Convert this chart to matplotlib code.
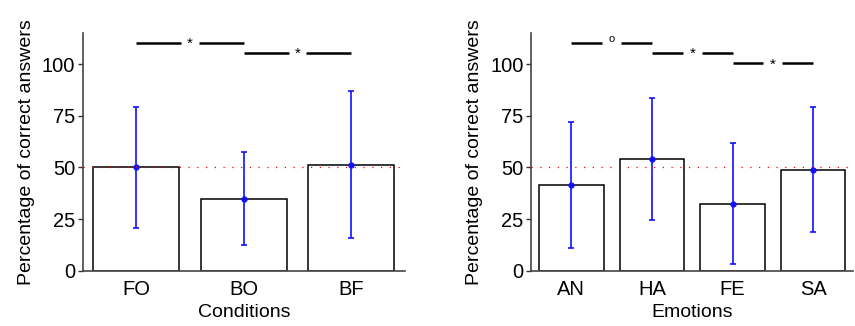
import numpy as np
import matplotlib
matplotlib.use('Agg')
import matplotlib.pyplot as plt

# data
cond_labels = ['FO', 'BO', 'BF']
cond_means = [50.0, 34.8, 51.4]
cond_upper = [79.3, 57.4, 87.1]
cond_lower = [20.5, 12.3, 15.7]
cond_sig = [(1, 2, 110.5, '*'), (2, 3, 105.5, '*')]

emo_labels = ['AN', 'HA', 'FE', 'SA']
emo_means = [41.5, 54.1, 32.5, 48.9]
emo_upper = [72.0, 83.7, 61.7, 79.5]
emo_lower = [11.1, 24.7, 3.1, 18.7]
emo_sig = [(1, 2, 110.5, 'o'), (2, 3, 105.5, '*'), (3, 4, 100.5, '*')]

chance = 50

plt.rcParams['font.family'] = ['Liberation Sans', 'DejaVu Sans']


def draw_panel(ax, labels, means, upper, lower, sig, xlabel, gap):
    x = np.arange(1, len(labels) + 1)
    ax.bar(x, means, width=0.8, color='white', edgecolor='black', linewidth=1.1, zorder=2)
    yerr = [np.array(means) - np.array(lower), np.array(upper) - np.array(means)]
    ax.errorbar(x, means, yerr=yerr, fmt='o', color='#1010ff', ms=3.5,
                elinewidth=1.2, capsize=2, capthick=1.2, zorder=3)
    ax.axhline(chance, color='red', linestyle=(0, (1, 6)), linewidth=0.9, zorder=4)

    # significance brackets
    for a, b, y, mark in sig:
        mid = (a + b) / 2
        ax.plot([a, mid - gap], [y, y], color='black', lw=1.8, solid_capstyle='butt', clip_on=False)
        ax.plot([mid + gap, b], [y, y], color='black', lw=1.8, solid_capstyle='butt', clip_on=False)
        if mark == '*':
            ax.text(mid, y - 0.5, mark, ha='center', va='center', fontsize=11)
        else:
            ax.text(mid, y + 0.3, mark, ha='center', va='baseline', fontsize=8)

    ax.set_xlim(0.5, len(labels) + 0.5)
    ax.set_ylim(0, 115)
    ax.set_yticks([0, 25, 50, 75, 100])
    ax.set_xticks(x)
    ax.set_xticklabels(labels)
    ax.tick_params(axis='x', length=0, labelsize=14.5, pad=7)
    ax.tick_params(axis='y', length=3.5, width=1, direction='out', labelsize=14.5, colors='#333333',
                   labelcolor='black', pad=2)
    for s in ['top', 'right']:
        ax.spines[s].set_visible(False)
    for s in ['left', 'bottom']:
        ax.spines[s].set_color('#444444')
        ax.spines[s].set_linewidth(1.2)
    ax.set_xlabel(xlabel, fontsize=14, labelpad=3)
    ax.set_ylabel('Percentage of correct answers', fontsize=14, labelpad=5)


fig = plt.figure(figsize=(8.55, 3.26), dpi=100)
ax1 = fig.add_axes([0.0967, 0.1696, 0.3772, 0.7282])
ax2 = fig.add_axes([0.6211, 0.1696, 0.3771, 0.7282])

draw_panel(ax1, cond_labels, cond_means, cond_upper, cond_lower, cond_sig, 'Conditions', 0.082)
draw_panel(ax2, emo_labels, emo_means, emo_upper, emo_lower, emo_sig, 'Emotions', 0.118)

fig.savefig('out.png', dpi=100)
